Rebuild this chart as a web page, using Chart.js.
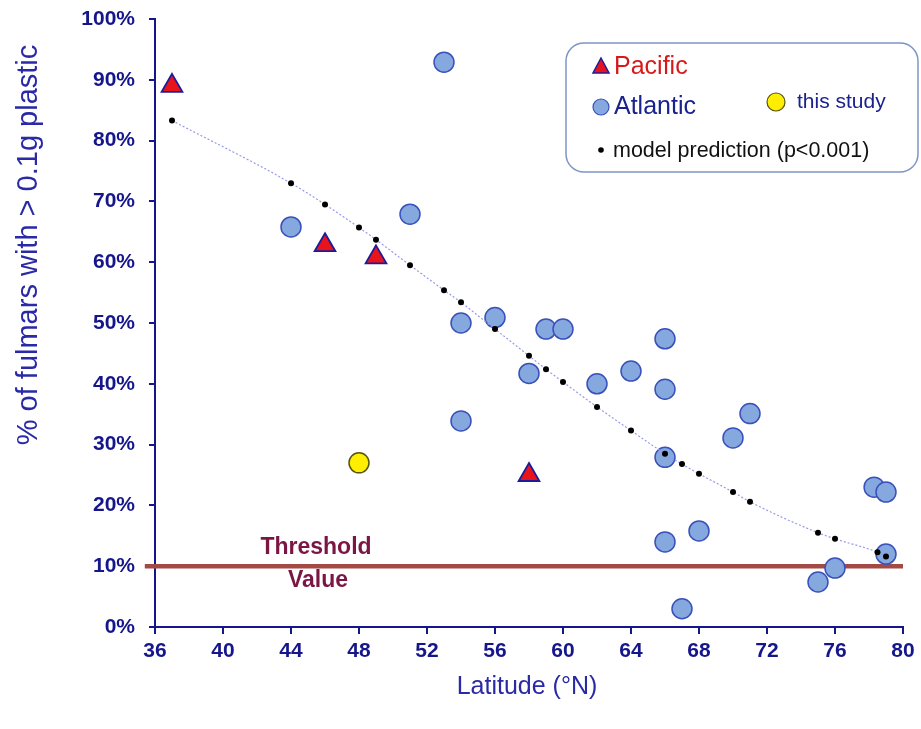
<!DOCTYPE html>
<html lang="en">
<head>
    <meta charset="UTF-8">
    <title>Fulmars plastic vs latitude</title>
    <script src="https://cdn.jsdelivr.net/npm/chart.js@4.4.1/dist/chart.umd.min.js"></script>
    <style>
        html, body {margin: 0;padding: 0;background: #fff;overflow: hidden;}
        #box {position: absolute;left: 0;top: 0;width: 921px;height: 729px;}
    </style>
</head>
<body>
<div id="box"><canvas id="chart"></canvas></div>
<script>
    // Pacific sites (triangles)
    const pacificLat = [37, 46, 49, 58];
    const pacificPct = [89, 62.8, 60.8, 25];

    // Atlantic sites (circles)
    const atlanticLat = [44, 51, 53, 54, 54, 56, 58, 59, 60, 62, 64, 66, 66, 66, 66, 67, 68, 70, 71, 75, 76, 78.3, 79, 79];
    const atlanticPct = [65.8, 67.9, 92.9, 50, 33.9, 50.9, 41.7, 49, 49, 40, 42.1, 47.4, 39.1, 27.9, 14, 3, 15.8, 31.1, 35.1, 7.4, 9.7, 23, 22.2, 12];

    // this study
    const studyLat = [48];
    const studyPct = [27];

    // model prediction
    const modelLat = [37, 44, 46, 48, 49, 51, 53, 54, 56, 58, 59, 60, 62, 64, 66, 67, 68, 70, 71, 75, 76, 78.5, 79];
    const modelPct = [83.3, 73, 69.5, 65.7, 63.7, 59.5, 55.4, 53.4, 49, 44.6, 42.4, 40.3, 36.2, 32.3, 28.5, 26.8, 25.2, 22.2, 20.6, 15.5, 14.5, 12.3, 11.6];

    // threshold
    const thresholdPct = 10;
    const thresholdFrom = 35.4;
    const thresholdTo = 80;

    const xTicks = [36, 40, 44, 48, 52, 56, 60, 64, 68, 72, 76, 80];

    const navy = '#16168c';
    const titleBlue = '#2a2aa6';
    const axisFont = 'Arial, "Liberation Sans", sans-serif';

    function pts(xs, ys) {
        return xs.map((x, i) => ({x: x, y: ys[i]}));
    }

    // titles, threshold label and legend box
    const decor = {
        id: 'decor',
        afterDraw(chart) {
            const ctx = chart.ctx;
            const ys = chart.scales.y;
            ctx.save();

            // y title
            ctx.save();
            ctx.translate(29, 245);
            ctx.rotate(-Math.PI / 2);
            ctx.fillStyle = titleBlue;
            ctx.font = '29px ' + axisFont;
            ctx.textAlign = 'center';
            ctx.textBaseline = 'middle';
            ctx.fillText('% of fulmars with > 0.1g plastic', 0, 0);
            ctx.restore();

            // x title
            ctx.fillStyle = titleBlue;
            ctx.font = '25px ' + axisFont;
            ctx.textAlign = 'center';
            ctx.textBaseline = 'middle';
            ctx.fillText('Latitude (°N)', 527, 687);

            // threshold label
            const ty = ys.getPixelForValue(thresholdPct);
            ctx.fillStyle = '#7a1544';
            ctx.font = 'bold 23px "Liberation Sans Narrow", ' + axisFont;
            ctx.fillText('Threshold', 316, ty - 19);
            ctx.fillText('Value', 318, ty + 14);

            // legend box
            const bx = 566, by = 43, bw = 352, bh = 129, r = 18;
            ctx.beginPath();
            ctx.roundRect(bx, by, bw, bh, r);
            ctx.fillStyle = '#ffffff';
            ctx.fill();
            ctx.lineWidth = 1.5;
            ctx.strokeStyle = '#7d95c6';
            ctx.stroke();

            ctx.textAlign = 'left';
            // Pacific
            ctx.beginPath();
            ctx.moveTo(601, 58);
            ctx.lineTo(609, 73);
            ctx.lineTo(593, 73);
            ctx.closePath();
            ctx.fillStyle = '#e8141c';
            ctx.fill();
            ctx.lineWidth = 1.5;
            ctx.strokeStyle = '#1c1c9a';
            ctx.stroke();
            ctx.fillStyle = '#d61a1a';
            ctx.font = '25px ' + axisFont;
            ctx.fillText('Pacific', 614, 67);

            // Atlantic
            ctx.beginPath();
            ctx.arc(601, 107, 8, 0, Math.PI * 2);
            ctx.fillStyle = '#85a8df';
            ctx.fill();
            ctx.strokeStyle = '#3a50bb';
            ctx.lineWidth = 1.2;
            ctx.stroke();
            ctx.fillStyle = '#1a228e';
            ctx.fillText('Atlantic', 614, 107);

            // this study
            ctx.beginPath();
            ctx.arc(776, 102, 9, 0, Math.PI * 2);
            ctx.fillStyle = '#ffee00';
            ctx.fill();
            ctx.strokeStyle = '#55550f';
            ctx.stroke();
            ctx.fillStyle = '#1a228e';
            ctx.font = '21px ' + axisFont;
            ctx.fillText('this study', 797, 102);

            // model
            ctx.beginPath();
            ctx.arc(601, 150, 2.8, 0, Math.PI * 2);
            ctx.fillStyle = '#000';
            ctx.fill();
            ctx.fillStyle = '#111';
            ctx.font = '21.5px ' + axisFont;
            ctx.fillText('model prediction (p<0.001)', 613, 151);

            ctx.restore();
        }
    };

    new Chart(document.getElementById('chart'), {
        type: 'scatter',
        data: {
            datasets: [
                {
                    label: 'model prediction (p<0.001)',
                    data: pts(modelLat, modelPct),
                    showLine: true,
                    cubicInterpolationMode: 'monotone',
                    borderColor: '#959be6',
                    borderWidth: 1.2,
                    borderDash: [2, 2],
                    pointRadius: 3,
                    pointBackgroundColor: '#000',
                    pointBorderWidth: 0,
                    order: 0
                },
                {
                    label: 'Pacific',
                    data: pts(pacificLat, pacificPct),
                    pointStyle: 'triangle',
                    pointRadius: 12,
                    pointBackgroundColor: '#e8141c',
                    pointBorderColor: '#1c1c9a',
                    pointBorderWidth: 1.8,
                    order: 1
                },
                {
                    label: 'Atlantic',
                    data: pts(atlanticLat, atlanticPct),
                    pointRadius: 10,
                    pointBackgroundColor: '#85a8df',
                    pointBorderColor: '#3a50bb',
                    pointBorderWidth: 1.5,
                    order: 2
                },
                {
                    label: 'this study',
                    data: pts(studyLat, studyPct),
                    pointRadius: 10,
                    pointBackgroundColor: '#ffee00',
                    pointBorderColor: '#55550f',
                    pointBorderWidth: 1.5,
                    order: 3
                },
                {
                    label: 'Threshold Value',
                    data: [{x: thresholdFrom, y: thresholdPct}, {x: thresholdTo, y: thresholdPct}],
                    showLine: true,
                    borderColor: '#a34a44',
                    borderWidth: 4.5,
                    pointRadius: 0,
                    clip: false,
                    order: 4
                }
            ]
        },
        options: {
            responsive: true,
            maintainAspectRatio: false,
            animation: false,
            layout: {padding: {top: 19, right: 18, left: 0, bottom: 0}},
            plugins: {
                legend: {display: false},
                tooltip: {enabled: false}
            },
            scales: {
                x: {
                    type: 'linear',
                    min: 36,
                    max: 80,
                    afterBuildTicks: (s) => { s.ticks = xTicks.map(v => ({value: v})); },
                    afterFit: (s) => { s.height = 102; s.paddingLeft = 0; s.paddingRight = 0; },
                    grid: {display: true, drawOnChartArea: false, drawTicks: true, tickLength: 7, color: navy, lineWidth: 2},
                    border: {display: true, color: navy, width: 2},
                    ticks: {color: navy, padding: 5, font: {family: axisFont, size: 21, weight: 'bold'}}
                },
                y: {
                    min: 0,
                    max: 100,
                    afterFit: (s) => { s.width = 155; s.paddingTop = 0; s.paddingBottom = 0; },
                    grid: {display: true, drawOnChartArea: false, drawTicks: true, tickLength: 6, color: navy, lineWidth: 2},
                    border: {display: true, color: navy, width: 2},
                    ticks: {
                        stepSize: 10,
                        color: navy,
                        padding: 14,
                        font: {family: axisFont, size: 21, weight: 'bold'},
                        callback: (v) => v + '%'
                    }
                }
            }
        },
        plugins: [decor]
    });
</script>
</body>
</html>
